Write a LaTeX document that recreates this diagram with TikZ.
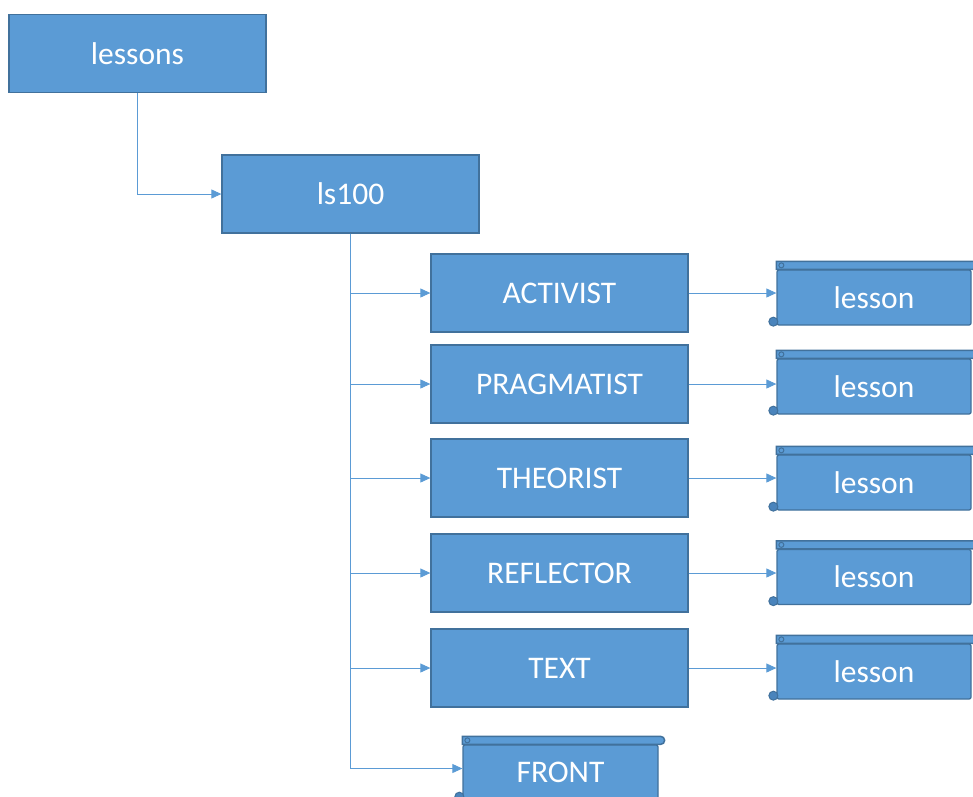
\documentclass[tikz,border=0pt]{standalone}
\usepackage{fontspec}
\setmainfont{Carlito}
\usetikzlibrary{arrows.meta,calc}
\definecolor{boxblue}{HTML}{5B9BD5}
\definecolor{boxedge}{HTML}{41719C}
\definecolor{curlblue}{HTML}{4A84BC}
\tikzset{
  box/.style={rectangle, fill=boxblue, draw=boxedge, line width=1.3pt,
    minimum width=257pt, minimum height=78pt, inner sep=0pt,
    text=white, font=\fontsize{31.5}{36}\selectfont},
  scrollbody/.style={rectangle, fill=boxblue, draw=boxedge, line width=1.3pt,
    rounded corners=2pt, minimum width=194pt, minimum height=55pt, inner sep=0pt,
    text=white, font=\fontsize{31.5}{36}\selectfont},
  scrollpart/.style={fill=boxblue, draw=boxedge, line width=1.5pt},
  conn/.style={draw=boxblue, line width=0.9pt, -{Triangle[length=10pt,width=9pt]}},
}
\newcommand\scrolldeco[1]{%
  \draw[scrollpart] (#1.north west) -- ([yshift=8pt]#1.north west)
    -- ([xshift=2pt,yshift=8pt]#1.north east)
    arc[start angle=90,end angle=-90,radius=4pt] -- cycle;
  \draw[draw=boxedge, line width=1pt] ([xshift=5pt,yshift=4pt]#1.north west) circle[radius=2.5pt];
  \filldraw[fill=curlblue, draw=boxedge, line width=1pt] ([xshift=-3pt,yshift=4pt]#1.south west) circle[radius=4.5pt];
}
\begin{document}
\begin{tikzpicture}[x=1pt,y=-1pt]
\useasboundingbox (0,0) rectangle (973,796);
\node[box] (lessons) at (137.5,53.5) {lessons};
\node[box] (ls100) at (350.5,194) {ls100};
\node[box] (act) at (559.5,293) {ACTIVIST};
\node[box] (prag) at (559.5,384) {PRAGMATIST};
\node[box] (theo) at (559.5,478) {THEORIST};
\node[box] (refl) at (559.5,573) {REFLECTOR};
\node[box] (txt) at (559.5,668) {TEXT};

\node[scrollbody] (l1) at (874,297.5) {lesson};
\node[scrollbody] (l2) at (874,386.5) {lesson};
\node[scrollbody] (l3) at (874,482.5) {lesson};
\node[scrollbody] (l4) at (874,577) {lesson};
\node[scrollbody] (l5) at (874,671.5) {lesson};
\node[scrollbody, minimum width=195pt] (front) at (560.5,772.5) {FRONT};
\foreach \s in {l1,l2,l3,l4,l5,front} {\scrolldeco{\s}}

\draw[conn] (lessons.south) |- (ls100.west);
\draw[conn] (ls100.south) |- (act.west);
\draw[conn] (ls100.south) |- (prag.west);
\draw[conn] (ls100.south) |- (theo.west);
\draw[conn] (ls100.south) |- (refl.west);
\draw[conn] (ls100.south) |- (txt.west);
\draw[conn] (ls100.south) |- ([yshift=4pt]front.west);

\draw[conn] (act.east) -- (act.east -| l1.west);
\draw[conn] (prag.east) -- (prag.east -| l2.west);
\draw[conn] (theo.east) -- (theo.east -| l3.west);
\draw[conn] (refl.east) -- (refl.east -| l4.west);
\draw[conn] (txt.east) -- (txt.east -| l5.west);
\end{tikzpicture}
\end{document}
